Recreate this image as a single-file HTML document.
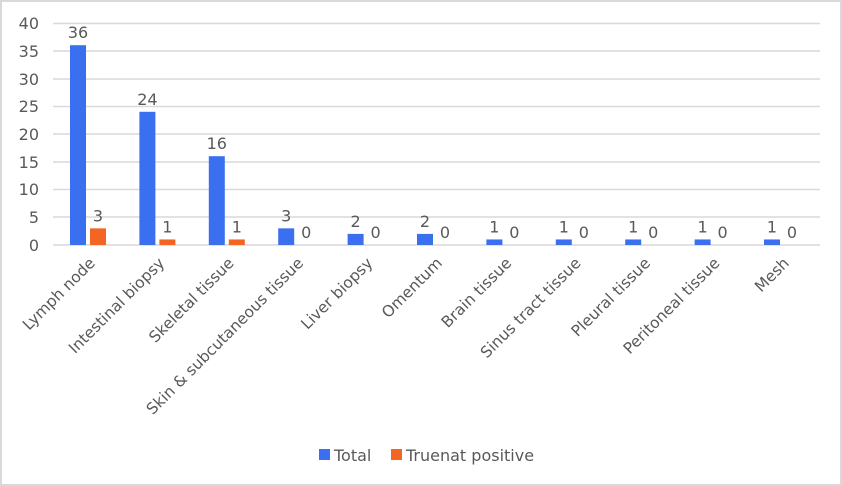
<!DOCTYPE html>
<html><head><meta charset="utf-8"><style>
html,body{margin:0;padding:0;background:#fff}
svg{display:block}
text{font-family:"DejaVu Sans","Liberation Sans",sans-serif;fill:#595959}
</style></head><body>
<svg width="842" height="486" viewBox="0 0 842 486" xmlns="http://www.w3.org/2000/svg">
<rect x="1" y="1" width="840" height="484" fill="#fff" stroke="#d9d9d9" stroke-width="2"/>
<g stroke="#d9d9d9" stroke-width="1.5">
<line x1="53" x2="820" y1="23.5" y2="23.5"/><line x1="53" x2="820" y1="51" y2="51"/>
<line x1="53" x2="820" y1="79" y2="79"/><line x1="53" x2="820" y1="106.5" y2="106.5"/>
<line x1="53" x2="820" y1="134" y2="134"/><line x1="53" x2="820" y1="162" y2="162"/>
<line x1="53" x2="820" y1="189.5" y2="189.5"/><line x1="53" x2="820" y1="217" y2="217"/>
<line x1="53" x2="820" y1="245" y2="245"/>
</g>
<g font-size="16" text-anchor="end">
<text x="39" y="29">40</text><text x="39" y="57">35</text><text x="39" y="85">30</text>
<text x="39" y="112">25</text><text x="39" y="140">20</text><text x="39" y="168">15</text>
<text x="39" y="195">10</text><text x="39" y="223">5</text><text x="39" y="251">0</text>
</g>
<g id="bars"></g>
<g id="labs" font-size="16" text-anchor="middle"></g>
<g id="cats" font-size="15.5" text-anchor="end"></g>
<rect x="319" y="449" width="11" height="11" fill="#3a6ff0"/>
<text x="334" y="461" font-size="16">Total</text>
<rect x="391" y="449" width="11" height="11" fill="#f26522"/>
<text x="406" y="461" font-size="16">Truenat positive</text>
<script>
var names=["Lymph node","Intestinal biopsy","Skeletal tissue","Skin & subcutaneous tissue","Liver biopsy","Omentum","Brain tissue","Sinus tract tissue","Pleural tissue","Peritoneal tissue","Mesh"];
var t=[36,24,16,3,2,2,1,1,1,1,1],p=[3,1,1,0,0,0,0,0,0,0,0];
var ns="http://www.w3.org/2000/svg",s=5.55,b=245;
function el(g,tag,a,txt){var e=document.createElementNS(ns,tag);for(var k in a)e.setAttribute(k,a[k]);if(txt!=null)e.textContent=txt;document.getElementById(g).appendChild(e);}
for(var i=0;i<11;i++){var c=88+i*69.4;
el("bars","rect",{x:c-18,y:b-t[i]*s,width:16,height:t[i]*s,fill:"#3a6ff0"});
if(p[i])el("bars","rect",{x:c+2,y:b-p[i]*s,width:16,height:p[i]*s,fill:"#f26522"});
el("labs","text",{x:c-10,y:b-t[i]*s-7},t[i]);
el("labs","text",{x:c+10,y:b-p[i]*s-7},p[i]);
el("cats","text",{x:0,y:0,transform:"translate("+(c+8)+",264) rotate(-45)"},names[i]);}
</script>
</svg>
</body></html>
